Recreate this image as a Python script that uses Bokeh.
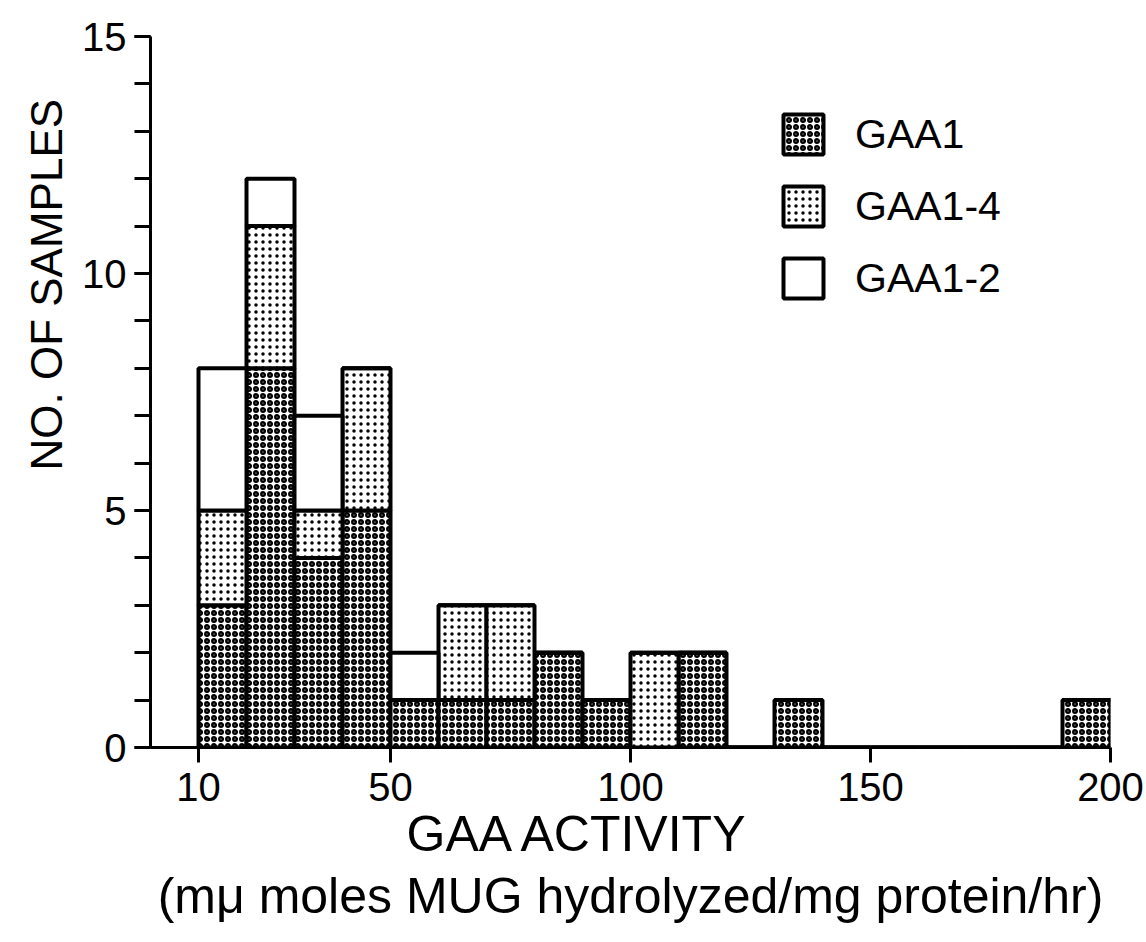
from bokeh.plotting import figure
from bokeh.models import Range1d, FixedTicker, ColumnDataSource, Legend, LegendItem, Title
from bokeh.embed import file_html
from bokeh.resources import INLINE

# ---- data ----
bin_left = [10, 20, 30, 40, 50, 60, 70, 80, 90, 100, 110, 120, 130, 140, 150, 160, 170, 180, 190]
gaa1     = [3, 8, 4, 5, 1, 1, 1, 2, 1, 0, 2, 0, 1, 0, 0, 0, 0, 0, 1]
gaa1_4   = [2, 3, 1, 3, 0, 2, 2, 0, 0, 2, 0, 0, 0, 0, 0, 0, 0, 0, 0]
gaa1_2   = [3, 1, 2, 0, 1, 0, 0, 0, 0, 0, 0, 0, 0, 0, 0, 0, 0, 0, 0]
series = ["GAA1", "GAA1-4", "GAA1-2"]
bin_width = 10
x_ticks = [10, 50, 100, 150, 200]
y_major = [0, 5, 10, 15]
y_minor = list(range(0, 16))
x_title = "GAA ACTIVITY"
x_subtitle = "(m\u03bc moles MUG hydrolyzed/mg protein/hr)"
y_title = "NO. OF SAMPLES"

FONT = "Liberation Sans"

src = ColumnDataSource(dict(
    x=[b + bin_width / 2 for b in bin_left],
    **{series[0]: gaa1, series[1]: gaa1_4, series[2]: gaa1_2},
))

p = figure(width=1146, height=942, output_backend="svg", toolbar_location=None,
           x_range=Range1d(0, 200), y_range=Range1d(0, 15),
           min_border_left=150, min_border_right=36, min_border_top=36, min_border_bottom=195)
p.outline_line_color = None
p.grid.visible = False
p.background_fill_color = "white"
p.border_fill_color = "white"

rs = p.vbar_stack(series, x="x", width=bin_width, source=src,
                  fill_color=["white", "white", "white"],
                  hatch_pattern=["ring", "dot", " "],
                  hatch_scale=[7, 7, 6],
                  hatch_weight=[2.4, 1, 1],
                  hatch_color="black",
                  line_color="black", line_width=4)

# axes
xa = p.xaxis[0]
xa.ticker = FixedTicker(ticks=x_ticks)
xa.axis_line_width = 3
xa.major_tick_line_width = 3
xa.major_tick_in = 0
xa.major_tick_out = 15
xa.minor_tick_line_color = None
xa.major_label_text_font = FONT
xa.major_label_text_font_size = "40px"
xa.major_label_standoff = 10

ya = p.yaxis[0]
ya.ticker = FixedTicker(ticks=y_major, minor_ticks=y_minor)
ya.axis_line_width = 3
ya.major_tick_line_width = 3
ya.minor_tick_line_width = 3
ya.major_tick_in = 0
ya.major_tick_out = 16
ya.minor_tick_in = 0
ya.minor_tick_out = 16
ya.major_label_text_font = FONT
ya.major_label_text_font_size = "40px"
ya.major_label_standoff = 8

for a in (xa, ya):
    a.axis_line_color = "black"
    a.major_tick_line_color = "black"
    a.minor_tick_line_color = "black" if a is ya else None
    a.major_label_text_color = "black"

p.add_layout(Title(text=x_title, align="left", offset=256, standoff=0,
                   text_font=FONT, text_font_size="50px", text_font_style="normal",
                   text_color="black"), "below")
p.add_layout(Title(text=x_subtitle, align="center", standoff=8,
                   text_font=FONT, text_font_size="50px", text_font_style="normal",
                   text_color="black"), "below")
p.add_layout(Title(text=y_title, align="left", offset=277, standoff=18,
                   padding=(0, 0, 18, 0),
                   text_font=FONT, text_font_size="44px", text_font_style="normal",
                   text_color="black"), "left")

legend = Legend(items=[LegendItem(label=s, renderers=[r]) for s, r in zip(series, rs)],
                location=(628, 444), glyph_width=50, glyph_height=50, spacing=22,
                label_text_font=FONT, label_text_font_size="41px", label_standoff=27,
                label_text_color="black",
                border_line_color=None, background_fill_alpha=0, padding=0, margin=0)
p.add_layout(legend)

open("out.html", "w").write(file_html(p, INLINE))
